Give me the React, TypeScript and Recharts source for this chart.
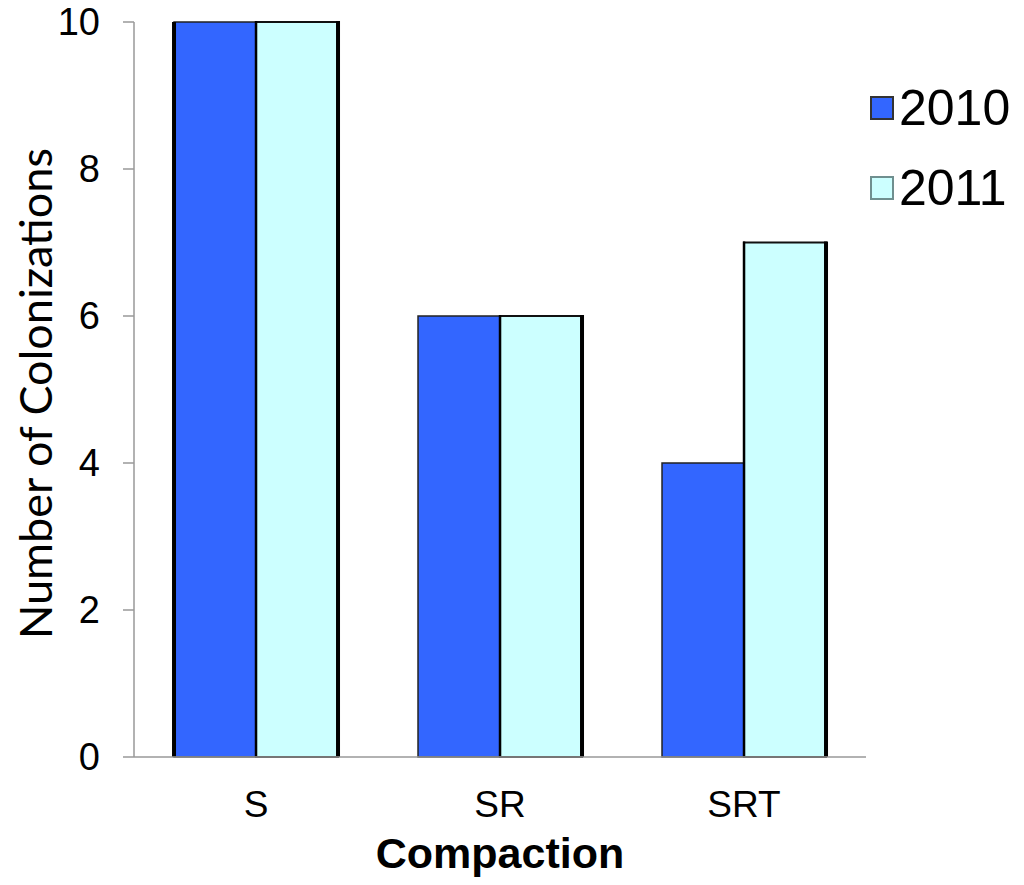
import React from 'react';
import { BarChart, Bar, XAxis, YAxis, Label } from 'recharts';

const categories = ['S', 'SR', 'SRT'];
const series2010 = [10, 6, 4];
const series2011 = [10, 6, 7];
const yTicks = [0, 2, 4, 6, 8, 10];
const seriesNames = ['2010', '2011'];
const seriesColors = ['#3366FF', '#CCFFFF'];
const seriesBorders = ['#333333', '#6f8f8f'];

const data = categories.map((c, i) => ({ name: c, y2010: series2010[i], y2011: series2011[i] }));

const Shape2010 = (props: any) => {
  const { x, y, width, height, index } = props;
  if (!height || height <= 0) return null;
  return (
    <g>
      <rect x={x} y={y} width={width} height={height} fill={seriesColors[0]} stroke="#222" strokeWidth={1.5} />
      {index === 0 ? <line x1={x} y1={y} x2={x} y2={y + height} stroke="#000" strokeWidth={4} /> : null}
    </g>
  );
};

const Shape2011 = (props: any) => {
  const { x, y, width, height } = props;
  if (!height || height <= 0) return null;
  return (
    <g>
      <rect x={x} y={y} width={width} height={height} fill={seriesColors[1]} stroke="#111" strokeWidth={2} />
      <line x1={x + width} y1={y - 1} x2={x + width} y2={y + height} stroke="#000" strokeWidth={4} />
      <line x1={x} y1={y - 1} x2={x} y2={y + height} stroke="#000" strokeWidth={2.5} />
    </g>
  );
};

export default function App() {
  return (
    <div style={{ position: 'absolute', left: 0, top: 0, width: 1024, height: 885, background: '#fff' }}>
      <BarChart
        width={1024}
        height={885}
        data={data}
        margin={{ top: 22, right: 158, bottom: 0, left: 0 }}
        barCategoryGap="16.4%"
        barGap={0}
      >
        <XAxis
          dataKey="name"
          height={128}
          tickLine={false}
          tickSize={0}
          tickMargin={34}
          axisLine={{ stroke: '#999', strokeWidth: 1.5 }}
          tick={{ fill: '#000', fontSize: 37, fontFamily: 'Liberation Sans, Arial, sans-serif' }}
        >
          <Label
            value="Compaction"
            position="insideBottom"
            offset={17}
            style={{ fontSize: 43, fontWeight: 'bold', fill: '#000', fontFamily: 'Liberation Sans, Arial, sans-serif' }}
          />
        </XAxis>
        <YAxis
          width={134}
          domain={[0, 10]}
          ticks={yTicks}
          interval={0}
          tickSize={11}
          tickMargin={23}
          axisLine={{ stroke: '#999', strokeWidth: 1.5 }}
          tickLine={{ stroke: '#999', strokeWidth: 1.5 }}
          tick={{ fill: '#000', fontSize: 38, fontFamily: 'Liberation Sans, Arial, sans-serif' }}
        >
          <Label
            value="Number of Colonizations"
            angle={-90}
            position="insideLeft"
            offset={36}
            dy={4}
            style={{ textAnchor: 'middle', fontSize: 45, fill: '#000', fontFamily: 'Lato, sans-serif' }}
          />
        </YAxis>
        <Bar dataKey="y2010" name={seriesNames[0]} fill={seriesColors[0]} shape={Shape2010} isAnimationActive={false} />
        <Bar dataKey="y2011" name={seriesNames[1]} fill={seriesColors[1]} shape={Shape2011} isAnimationActive={false} />
      </BarChart>
      <div style={{ position: 'absolute', left: 870, top: 83, fontFamily: 'Liberation Sans, Arial, sans-serif' }}>
        {seriesNames.map((n, i) => (
          <div key={n} style={{ display: 'flex', alignItems: 'center', height: 50, marginBottom: 30 }}>
            <div
              style={{
                width: 24,
                height: 24,
                background: seriesColors[i],
                border: `2px solid ${seriesBorders[i]}`,
                boxSizing: 'border-box',
                marginRight: 5,
              }}
            />
            <span style={{ fontSize: 50, color: '#000', lineHeight: '50px' }}>{n}</span>
          </div>
        ))}
      </div>
    </div>
  );
}
